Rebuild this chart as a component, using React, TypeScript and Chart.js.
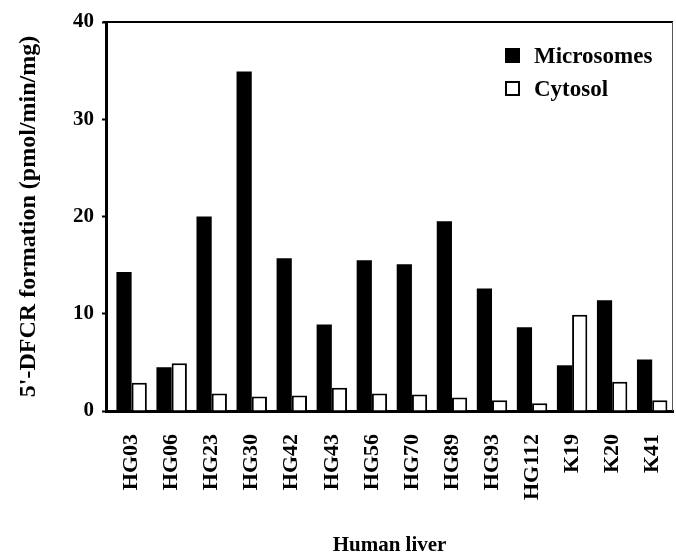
import React, { useEffect, useRef } from "react";
import { Chart, registerables } from "chart.js";

Chart.register(...registerables);

const categories = ["HG03", "HG06", "HG23", "HG30", "HG42", "HG43", "HG56", "HG70", "HG89", "HG93", "HG112", "K19", "K20", "K41"];
const microsomes = [14.3, 4.5, 20.0, 34.9, 15.7, 8.9, 15.5, 15.1, 19.5, 12.6, 8.6, 4.7, 11.4, 5.3];
const cytosol = [2.9, 4.9, 1.8, 1.5, 1.6, 2.4, 1.8, 1.7, 1.4, 1.1, 0.8, 9.9, 3.0, 1.1];
const yTicks = [0, 10, 20, 30, 40];

const SERIF = "'Liberation Serif', 'Times New Roman', serif";

const framePlugin = {
  id: "frameAndLegend",
  afterDraw(chart: any) {
    const { ctx, chartArea } = chart;
    ctx.save();
    ctx.strokeStyle = "#000";
    ctx.lineWidth = 2;
    ctx.beginPath();
    ctx.moveTo(chartArea.left - 3, chartArea.top);
    ctx.lineTo(chartArea.right, chartArea.top);
    ctx.stroke();
    ctx.strokeStyle = "#555";
    ctx.lineWidth = 1;
    ctx.beginPath();
    ctx.moveTo(chartArea.right - 0.5, chartArea.top);
    ctx.lineTo(chartArea.right - 0.5, chartArea.bottom);
    ctx.stroke();

    const lx = chartArea.right - 168;
    const ly = chartArea.top + 34;
    ctx.font = `bold 23px ${SERIF}`;
    ctx.textBaseline = "middle";
    ctx.textAlign = "left";
    chart.data.datasets.forEach((ds: any, i: number) => {
      const y = ly + i * 33;
      if (ds.backgroundColor === "#000") {
        ctx.fillStyle = "#000";
        ctx.fillRect(lx, y - 8, 15, 15);
      } else {
        ctx.strokeStyle = "#000";
        ctx.lineWidth = 2;
        ctx.strokeRect(lx + 1, y - 7, 13, 13);
      }
      ctx.fillStyle = "#000";
      ctx.fillText(ds.label, lx + 29, y + 1);
    });
    ctx.restore();
  },
};

export default function App() {
  const ref = useRef<HTMLCanvasElement | null>(null);
  useEffect(() => {
    if (!ref.current) return;
    const chart = new Chart(ref.current, {
      type: "bar",
      data: {
        datasets: [
          {
            label: "Microsomes",
            data: microsomes.map((v, i) => ({ x: i, y: v })),
            backgroundColor: "#000",
            borderColor: "#000",
            borderWidth: 0,
          },
          {
            label: "Cytosol",
            data: cytosol.map((v, i) => ({ x: i, y: v })),
            backgroundColor: "#fff",
            borderColor: "#000",
            borderWidth: 2,
          },
        ],
      },
      options: {
        responsive: true,
        maintainAspectRatio: false,
        animation: false,
        categoryPercentage: 0.76,
        barPercentage: 1.0,
        layout: { padding: { top: 22, right: 3, left: 0, bottom: 0 } },
        plugins: {
          legend: { display: false },
          tooltip: { enabled: false },
        },
        scales: {
          x: {
            type: "linear",
            offset: false,
            min: -0.64,
            max: 13.52,
            afterBuildTicks: (s: any) => {
              s.ticks = categories.map((_, i) => ({ value: i }));
            },
            afterFit: (s: any) => {
              s.height = 145;
              s.paddingLeft = 0;
              s.paddingRight = 0;
            },
            ticks: {
              autoSkip: false,
              minRotation: 90,
              maxRotation: 90,
              padding: 15,
              color: "#000",
              font: { family: SERIF, size: 22, weight: "bold" },
              callback: (v: any) => categories[v] ?? "",
            },
            grid: { display: false, offset: false },
            border: { display: true, color: "#000", width: 3 },
            title: {
              display: true,
              text: "Human liver",
              color: "#000",
              font: { family: SERIF, size: 21, weight: "bold" },
              padding: { top: 0, bottom: -2 },
            },
          },
          y: {
            min: 0,
            max: 40,
            afterBuildTicks: (s: any) => {
              s.ticks = yTicks.map((v) => ({ value: v }));
            },
            afterFit: (s: any) => {
              s.width = 106;
              s.paddingTop = 0;
              s.paddingBottom = 0;
            },
            ticks: {
              padding: 8,
              color: "#000",
              font: { family: SERIF, size: 21, weight: "bold" },
            },
            grid: {
              display: true,
              drawOnChartArea: false,
              drawTicks: true,
              tickLength: 4,
              tickColor: "#000",
              tickWidth: 2,
            },
            border: { display: true, color: "#000", width: 3 },
            title: {
              display: true,
              text: "5'-DFCR formation (pmol/min/mg)",
              color: "#000",
              font: { family: SERIF, size: 24, weight: "bold" },
              padding: { top: 14, bottom: 0 },
            },
          },
        },
      },
      plugins: [framePlugin],
    } as any);
    return () => chart.destroy();
  }, []);

  return (
    <div style={{ position: "fixed", left: 0, top: 0, width: 676, height: 556, background: "#fff" }}>
      <canvas ref={ref} />
    </div>
  );
}
